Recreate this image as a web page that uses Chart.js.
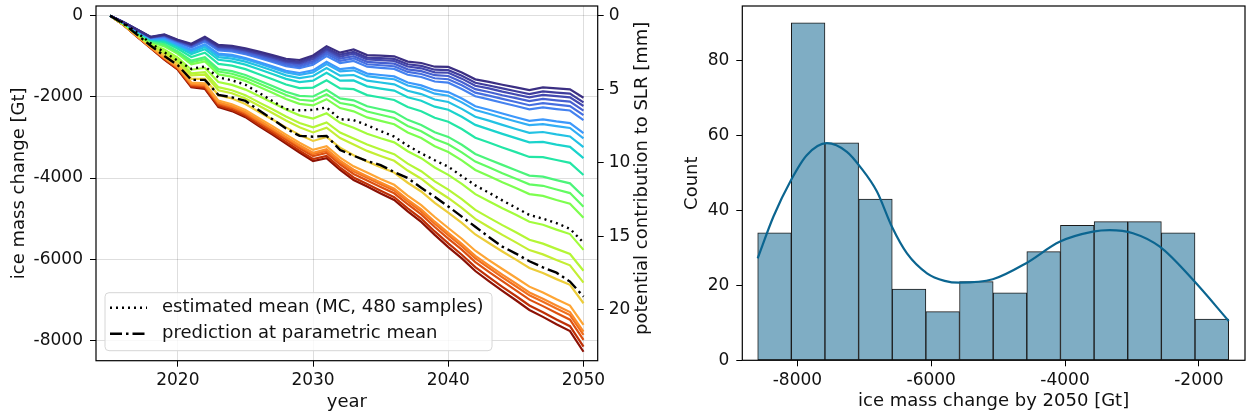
<!DOCTYPE html>
<html>
<head>
<meta charset="utf-8">
<script src="https://cdn.jsdelivr.net/npm/chart.js@4.4.1/dist/chart.umd.min.js"></script>
<style>
html, body { margin: 0; padding: 0; background: #fff; }
#wrap { position: relative; width: 1247px; height: 419px; overflow: hidden; }
#left { position: absolute; left: 0; top: 0; }
#right { position: absolute; left: 660px; top: 0; }
</style>
</head>
<body>
<div id="wrap">
  <canvas id="left" width="660" height="419"></canvas>
  <canvas id="right" width="587" height="419"></canvas>
</div>
<script>
// ---- data: left panel (ice mass change per run, Gt) ----
const years = [2015,2016,2017,2018,2019,2020,2021,2022,2023,2024,2025,2026,2027,2028,2029,2030,2031,2032,
               2033,2034,2035,2036,2037,2038,2039,2040,2041,2042,2043,2044,2045,2046,2047,2048,2049,2050];

const run01 = [0,-160,-340,-520,-460,-590,-690,-520,-720,-740,-800,-880,-970,-1060,-1090,-980,-750,-910,-830,-970,-985,-1000,-1130,-1165,-1256,-1260,-1400,-1567,-1630,-1700,-1765,-1830,-1764,-1790,-1813,-2020];
const run02 = [0,-160,-345,-525,-470,-605,-710,-545,-750,-770,-830,-915,-1005,-1100,-1130,-1025,-800,-960,-890,-1030,-1045,-1065,-1195,-1235,-1330,-1340,-1480,-1650,-1720,-1790,-1860,-1930,-1865,-1895,-1920,-2135];
const run03 = [0,-160,-345,-530,-480,-615,-725,-560,-770,-795,-855,-940,-1035,-1130,-1165,-1065,-840,-1005,-935,-1075,-1095,-1115,-1250,-1295,-1395,-1405,-1550,-1725,-1790,-1870,-1940,-2010,-1950,-1980,-2010,-2225];
const run04 = [0,-165,-350,-535,-490,-630,-745,-585,-800,-820,-885,-975,-1070,-1165,-1205,-1115,-890,-1055,-995,-1135,-1160,-1180,-1320,-1365,-1465,-1485,-1635,-1810,-1880,-1960,-2030,-2105,-2050,-2085,-2115,-2340];
const run05 = [0,-165,-350,-540,-505,-640,-765,-610,-825,-850,-915,-1005,-1105,-1205,-1245,-1160,-940,-1110,-1050,-1195,-1220,-1245,-1385,-1435,-1540,-1565,-1715,-1895,-1970,-2050,-2125,-2205,-2155,-2190,-2225,-2450];
const run06 = [0,-165,-355,-545,-515,-655,-785,-635,-855,-880,-950,-1040,-1140,-1245,-1290,-1210,-995,-1165,-1115,-1255,-1285,-1310,-1455,-1510,-1620,-1650,-1805,-1985,-2060,-2145,-2225,-2305,-2260,-2300,-2335,-2570];
const run07 = [0,-170,-365,-560,-545,-695,-840,-700,-935,-965,-1040,-1140,-1245,-1355,-1410,-1345,-1135,-1315,-1280,-1425,-1460,-1495,-1645,-1715,-1835,-1880,-2040,-2230,-2315,-2410,-2500,-2590,-2555,-2605,-2645,-2895];
const run08 = [0,-170,-370,-565,-560,-710,-860,-725,-965,-1000,-1070,-1175,-1285,-1395,-1455,-1395,-1190,-1370,-1345,-1490,-1530,-1565,-1720,-1790,-1920,-1970,-2135,-2325,-2415,-2515,-2605,-2695,-2670,-2720,-2765,-3020];
const run09 = [0,-175,-375,-575,-580,-735,-900,-770,-1020,-1055,-1130,-1240,-1350,-1470,-1535,-1485,-1290,-1475,-1460,-1600,-1645,-1690,-1850,-1930,-2065,-2125,-2295,-2490,-2585,-2690,-2790,-2885,-2865,-2925,-2975,-3240];
const run10 = [0,-175,-385,-585,-610,-765,-945,-825,-1085,-1125,-1205,-1320,-1435,-1555,-1635,-1600,-1405,-1600,-1595,-1740,-1795,-1845,-2010,-2095,-2240,-2315,-2490,-2690,-2800,-2910,-3015,-3120,-3110,-3175,-3230,-3510];
const run11 = [0,-180,-395,-605,-650,-815,-1015,-910,-1185,-1230,-1315,-1440,-1565,-1695,-1785,-1770,-1590,-1790,-1810,-1955,-2015,-2075,-2250,-2355,-2515,-2610,-2790,-3005,-3125,-3245,-3360,-3480,-3485,-3555,-3625,-3925];
const run12 = [0,-185,-410,-630,-700,-880,-1105,-1020,-1315,-1365,-1460,-1595,-1730,-1875,-1975,-1990,-1825,-2035,-2085,-2230,-2305,-2375,-2565,-2690,-2870,-2985,-3180,-3405,-3540,-3675,-3805,-3940,-3965,-4050,-4130,-4455];
const run13 = [0,-190,-415,-640,-725,-905,-1150,-1070,-1375,-1430,-1530,-1670,-1810,-1955,-2070,-2095,-1935,-2150,-2210,-2360,-2440,-2520,-2715,-2845,-3035,-3165,-3365,-3595,-3735,-3880,-4015,-4155,-4190,-4280,-4370,-4705];
const run14 = [0,-195,-425,-650,-755,-940,-1195,-1125,-1445,-1500,-1605,-1750,-1895,-2050,-2170,-2210,-2055,-2275,-2355,-2505,-2590,-2675,-2875,-3015,-3215,-3360,-3565,-3800,-3950,-4105,-4245,-4395,-4440,-4540,-4630,-4980];
const run15 = [0,-200,-450,-690,-830,-1035,-1330,-1285,-1635,-1705,-1820,-1980,-2145,-2310,-2455,-2535,-2405,-2640,-2760,-2910,-3020,-3120,-3340,-3510,-3740,-3920,-4145,-4395,-4570,-4745,-4905,-5075,-5150,-5270,-5380,-5770];
const run16 = [0,-210,-465,-710,-880,-1095,-1420,-1390,-1760,-1835,-1960,-2135,-2305,-2485,-2645,-2750,-2630,-2880,-3025,-3175,-3295,-3410,-3645,-3830,-4080,-4285,-4520,-4785,-4975,-5160,-5335,-5520,-5615,-5745,-5870,-6285];
const run17 = [0,-210,-470,-725,-910,-1130,-1470,-1450,-1835,-1910,-2040,-2220,-2395,-2580,-2750,-2875,-2760,-3015,-3175,-3330,-3455,-3575,-3815,-4015,-4275,-4490,-4735,-5005,-5205,-5400,-5585,-5775,-5880,-6020,-6150,-6575];
const run18 = [0,-215,-485,-745,-960,-1190,-1555,-1555,-1960,-2040,-2175,-2370,-2555,-2750,-2935,-3085,-2985,-3250,-3435,-3590,-3730,-3865,-4115,-4330,-4610,-4850,-5105,-5390,-5600,-5810,-6010,-6215,-6340,-6490,-6630,-7085];
const run19 = [0,-225,-500,-770,-1015,-1250,-1645,-1665,-2090,-2180,-2320,-2525,-2720,-2930,-3130,-3305,-3215,-3495,-3710,-3865,-4020,-4165,-4430,-4665,-4960,-5230,-5495,-5790,-6020,-6240,-6455,-6675,-6820,-6985,-7140,-7615];
const run20 = [0,-225,-505,-780,-1030,-1270,-1675,-1700,-2130,-2225,-2365,-2575,-2775,-2985,-3190,-3375,-3290,-3570,-3795,-3955,-4110,-4260,-4530,-4770,-5075,-5350,-5620,-5915,-6150,-6380,-6595,-6820,-6975,-7140,-7300,-7785];
const run21 = [0,-225,-510,-780,-1040,-1280,-1690,-1715,-2150,-2245,-2390,-2600,-2800,-3010,-3220,-3410,-3330,-3610,-3835,-3995,-4155,-4305,-4575,-4820,-5125,-5405,-5680,-5980,-6215,-6445,-6665,-6890,-7045,-7215,-7375,-7865];
const run22 = [0,-225,-510,-785,-1050,-1295,-1710,-1740,-2180,-2275,-2420,-2635,-2840,-3050,-3265,-3460,-3380,-3665,-3900,-4060,-4220,-4375,-4645,-4895,-5205,-5490,-5765,-6070,-6310,-6540,-6765,-6995,-7155,-7325,-7490,-7985];
const run23 = [0,-230,-515,-795,-1070,-1315,-1740,-1775,-2220,-2320,-2465,-2685,-2890,-3110,-3325,-3530,-3455,-3740,-3985,-4145,-4310,-4470,-4745,-5000,-5315,-5610,-5890,-6195,-6440,-6680,-6905,-7140,-7305,-7485,-7650,-8155];
const run24 = [0,-230,-520,-800,-1080,-1330,-1760,-1800,-2250,-2350,-2500,-2720,-2930,-3150,-3370,-3580,-3510,-3800,-4050,-4210,-4380,-4540,-4820,-5080,-5400,-5700,-5980,-6290,-6540,-6780,-7010,-7250,-7420,-7600,-7770,-8280];
const runs = [run01,run02,run03,run04,run05,run06,run07,run08,run09,run10,run11,run12,
              run13,run14,run15,run16,run17,run18,run19,run20,run21,run22,run23,run24];

const meanMC = [0,-180,-420,-680,-900,-1110,-1310,-1250,-1520,-1590,-1700,-1900,-2100,-2300,-2330,-2320,-2260,-2550,-2570,-2700,-2840,-2980,-3200,-3390,-3560,-3720,-3950,-4180,-4360,-4550,-4730,-4910,-5000,-5110,-5250,-5590];
const paramMean = [0,-200,-470,-740,-990,-1220,-1580,-1580,-1950,-2010,-2100,-2330,-2550,-2780,-2960,-2980,-2960,-3310,-3450,-3580,-3680,-3850,-4000,-4240,-4460,-4700,-4950,-5200,-5450,-5690,-5860,-6050,-6200,-6330,-6550,-6920];

const gtTicks = [0, -2000, -4000, -6000, -8000];
const yearTicks = [2020, 2030, 2040, 2050];
const slrTicks = [0, 5, 10, 15, 20];
const gtPerMm = 362;

// ---- data: right panel (histogram of change by 2050) ----
const binEdges = [-8593,-8090,-7588,-7085,-6582,-6080,-5577,-5074,-4571,-4069,-3566,-3063,-2561,-2058,-1555];
const binCounts = [34, 90, 58, 43, 19, 13, 21, 18, 29, 36, 37, 37, 34, 11];
const kdeX = [-8593,-8359,-8094,-7860,-7560,-7260,-7061,-6811,-6587,-6362,-6063,-5800,-5578,-5080,-4581,-4082,-3583,-3335,-2985,-2584,-2085,-1555];
const kdeY = [27.2,38.3,48.1,54.7,57.9,55.6,51.6,45.0,35.6,28.5,23.2,21.2,20.7,21.6,25.9,31.6,34.3,34.7,33.9,30.3,21.4,10.5];
const countTicks = [0, 20, 40, 60, 80];
const changeTicks = [-8000, -6000, -4000, -2000];

// ---- styles ----
const runColors = ['#3b2f83','#3f3c9c','#4349b0','#4660d0','#466fe0','#4482f0','#3d98fb','#31aef5',
                   '#22c2e3','#1ad3cc','#23e6a5','#4cf47a','#62fb62','#7dfe4f','#a2fc3c','#b4f636',
                   '#c4ee34','#eccd3a','#fea535','#fb8a2a','#f06e1e','#dd5010','#bf3006','#8c1205'];

Chart.defaults.font.family = 'DejaVu Sans';
Chart.defaults.font.size = 17;
Chart.defaults.color = '#111';
Chart.defaults.animation = false;

const gridColor = 'rgba(0,0,0,0.13)';
const titleFont = {family: 'DejaVu Sans', size: 18};

function fixTicks(list) {
  return function (axis) { axis.ticks = list.map(v => ({value: v})); };
}
// pin the axis box so the plot area lands where the reference has it
function fixSize(prop, size) {
  return function (axis) {
    axis[prop] = size;
    axis.paddingTop = 0; axis.paddingBottom = 0;
    axis.paddingLeft = 0; axis.paddingRight = 0;
  };
}

const frame = {
  id: 'frame',
  afterDatasetsDraw(chart) {
    const {ctx, chartArea: a} = chart;
    ctx.save();
    ctx.strokeStyle = '#000';
    ctx.lineWidth = 1.2;
    ctx.strokeRect(a.left, a.top, a.right - a.left, a.bottom - a.top);
    ctx.restore();
  }
};

const leftExtras = {
  id: 'leftExtras',
  afterDraw(chart) {
    const {ctx, chartArea: a} = chart;
    ctx.save();
    // legend box
    const bx = a.left + 9, by = a.bottom - 68, bw = 387, bh = 58;
    ctx.beginPath();
    ctx.roundRect(bx, by, bw, bh, 4);
    ctx.fillStyle = 'rgba(255,255,255,0.8)';
    ctx.fill();
    ctx.strokeStyle = '#d6d6d6';
    ctx.lineWidth = 1;
    ctx.stroke();
    ctx.strokeStyle = '#000';
    ctx.lineWidth = 2.4;
    ctx.setLineDash([2, 4]);
    ctx.beginPath(); ctx.moveTo(bx + 5, by + 15); ctx.lineTo(bx + 42, by + 15); ctx.stroke();
    ctx.setLineDash([12, 4, 2.5, 4]);
    ctx.beginPath(); ctx.moveTo(bx + 5, by + 41); ctx.lineTo(bx + 42, by + 41); ctx.stroke();
    ctx.setLineDash([]);
    ctx.fillStyle = '#111';
    ctx.font = '18px DejaVu Sans';
    ctx.textBaseline = 'middle';
    ctx.fillText('estimated mean (MC, 480 samples)', bx + 57, by + 15);
    ctx.fillText('prediction at parametric mean', bx + 57, by + 41);
    // right axis title, reading bottom to top
    ctx.translate(a.right + 45, (a.top + a.bottom) / 2 - 5);
    ctx.rotate(-Math.PI / 2);
    ctx.textAlign = 'center';
    ctx.fillText('potential contribution to SLR [mm]', 0, 0);
    ctx.restore();
  }
};

// ---- left chart ----
const runSets = runs.map((vals, i) => ({
  label: 'run ' + (i + 1),
  data: years.map((yr, k) => ({x: yr, y: vals[k]})),
  borderColor: runColors[i],
  borderWidth: 2.2,
  pointRadius: 0,
  order: 2
}));

new Chart(document.getElementById('left'), {
  type: 'line',
  data: {
    datasets: [
      {
        label: 'estimated mean (MC, 480 samples)',
        data: years.map((yr, k) => ({x: yr, y: meanMC[k]})),
        borderColor: '#000', borderWidth: 2.4, borderDash: [2, 4],
        pointRadius: 0, order: 0
      },
      {
        label: 'prediction at parametric mean',
        data: years.map((yr, k) => ({x: yr, y: paramMean[k]})),
        borderColor: '#000', borderWidth: 2.4, borderDash: [12, 4, 2.5, 4],
        pointRadius: 0, order: 0
      }
    ].concat(runSets)
  },
  options: {
    responsive: false,
    layout: {padding: {top: 6, left: 0, right: 0, bottom: 0}},
    plugins: {legend: {display: false}, tooltip: {enabled: false}},
    scales: {
      x: {
        type: 'linear', min: 2013.95, max: 2051.05,
        afterBuildTicks: fixTicks(yearTicks),
        afterFit: fixSize('height', 58.3),
        ticks: {callback: v => String(v), autoSkip: false, maxRotation: 0, padding: 4},
        grid: {color: gridColor, tickColor: '#000', tickLength: 6},
        border: {display: false},
        title: {display: true, text: 'year', font: titleFont, padding: {top: 0, bottom: 6}}
      },
      y: {
        type: 'linear', position: 'left', min: -8500, max: 240,
        afterBuildTicks: fixTicks(gtTicks),
        afterFit: fixSize('width', 96),
        ticks: {callback: v => String(v), autoSkip: false, padding: 7},
        grid: {color: gridColor, tickColor: '#000', tickLength: 6},
        border: {display: false},
        title: {display: true, text: 'ice mass change [Gt]', font: titleFont, padding: {top: 9, bottom: 0}}
      },
      y2: {
        type: 'linear', position: 'right', reverse: true,
        min: -240 / gtPerMm, max: 8500 / gtPerMm,
        afterBuildTicks: fixTicks(slrTicks),
        afterFit: fixSize('width', 62.3),
        ticks: {callback: v => String(v), autoSkip: false, padding: 5},
        grid: {drawOnChartArea: false, tickColor: '#000', tickLength: 6},
        border: {display: false}
      }
    }
  },
  plugins: [frame, leftExtras]
});

// ---- right chart ----
const binCenters = binCounts.map((c, i) => (binEdges[i] + binEdges[i + 1]) / 2);

new Chart(document.getElementById('right'), {
  type: 'bar',
  data: {
    datasets: [
      {
        type: 'line',
        label: 'kde',
        data: kdeX.map((x, i) => ({x: x, y: kdeY[i]})),
        borderColor: '#0b6590', borderWidth: 2.2,
        pointRadius: 0, cubicInterpolationMode: 'monotone', order: 0
      },
      {
        type: 'bar',
        label: 'Count',
        data: binCenters.map((x, i) => ({x: x, y: binCounts[i]})),
        backgroundColor: '#7fadc4', borderColor: '#1a1a1a', borderWidth: 1,
        borderSkipped: false, barPercentage: 1, categoryPercentage: 1,
        grouped: false, order: 1
      }
    ]
  },
  options: {
    responsive: false,
    layout: {padding: {top: 6, left: 0, right: 2, bottom: 0}},
    plugins: {legend: {display: false}, tooltip: {enabled: false}},
    scales: {
      x: {
        type: 'linear', min: -8823, max: -1311, offset: false,
        afterBuildTicks: fixTicks(changeTicks),
        afterFit: fixSize('height', 58.7),
        ticks: {callback: v => String(v), autoSkip: false, maxRotation: 0, padding: 4},
        grid: {offset: false, drawOnChartArea: false, tickColor: '#000', tickLength: 6},
        border: {display: false},
        title: {display: true, text: 'ice mass change by 2050 [Gt]', font: titleFont, padding: {top: 0, bottom: 7}}
      },
      y: {
        type: 'linear', min: 0, max: 94.5,
        afterBuildTicks: fixTicks(countTicks),
        afterFit: fixSize('width', 82.3),
        ticks: {callback: v => String(v), autoSkip: false, padding: 7},
        grid: {drawOnChartArea: false, tickColor: '#000', tickLength: 6},
        border: {display: false},
        title: {display: true, text: 'Count', font: titleFont, padding: {top: 22, bottom: 0}}
      }
    }
  },
  plugins: [frame]
});
</script>
</body>
</html>
